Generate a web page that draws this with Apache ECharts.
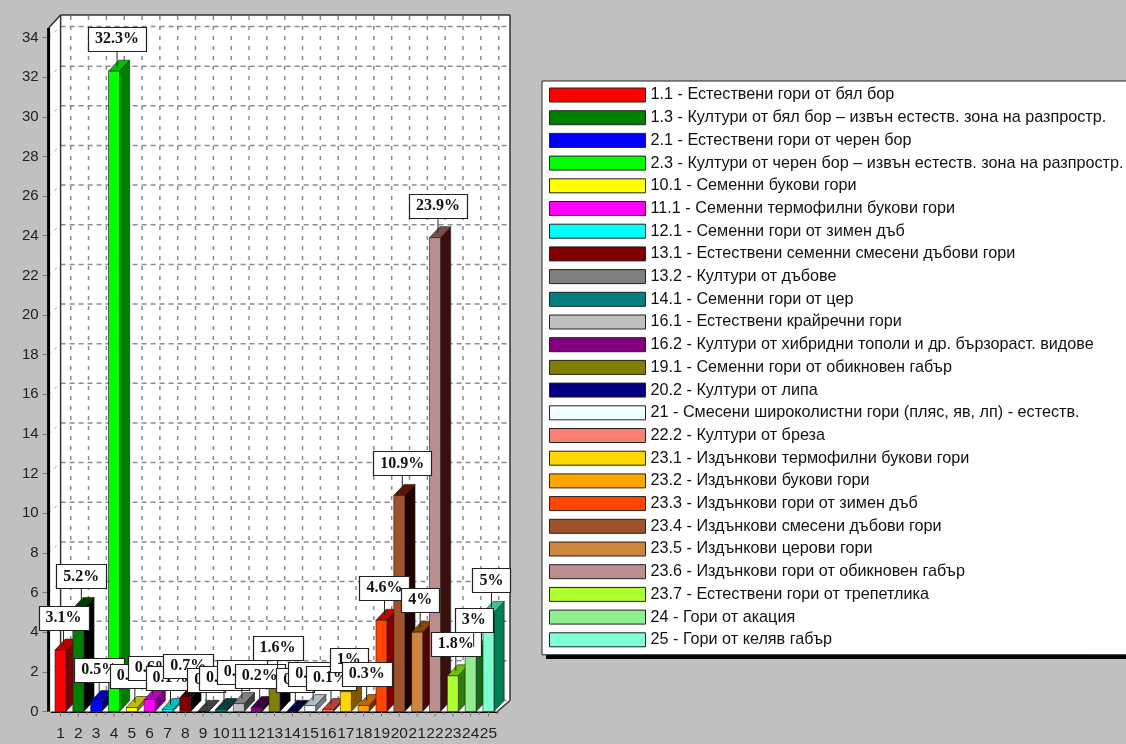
<!DOCTYPE html>
<html>
<head>
<meta charset="utf-8">
<title>chart</title>
<script src="https://cdn.jsdelivr.net/npm/echarts@6/dist/echarts.min.js"></script>
<style>
html, body { margin: 0; padding: 0; background: #c0c0c0; }
#main { width: 1126px; height: 744px; }
</style>
</head>
<body>
<div id="main"></div>
<script>
var categories = ['1','2','3','4','5','6','7','8','9','10','11','12','13','14','15','16','17','18','19','20','21','22','23','24','25'];
var values = [3.1, 5.2, 0.5, 32.3, 0.2, 0.6, 0.1, 0.7, 0, 0.1, 0.4, 0.2, 1.6, 0, 0.3, 0.1, 1, 0.3, 4.6, 10.9, 4, 23.9, 1.8, 3, 5];
var names = [
    '1.1 - Естествени гори от бял бор',
    '1.3 - Култури от бял бор – извън естеств. зона на разпростр.',
    '2.1 - Естествени гори от черен бор',
    '2.3 - Култури от черен бор – извън естеств. зона на разпростр.',
    '10.1 - Семенни букови гори',
    '11.1 - Семенни термофилни букови гори',
    '12.1 - Семенни гори от зимен дъб',
    '13.1 - Естествени семенни смесени дъбови гори',
    '13.2 - Култури от дъбове',
    '14.1 - Семенни гори от цер',
    '16.1 - Естествени крайречни гори',
    '16.2 - Култури от хибридни тополи и др. бързораст. видове',
    '19.1 - Семенни гори от обикновен габър',
    '20.2 - Култури от липа',
    '21 - Смесени широколистни гори (пляс, яв, лп) - естеств.',
    '22.2 - Култури от бреза',
    '23.1 - Издънкови термофилни букови гори',
    '23.2 - Издънкови букови гори',
    '23.3 - Издънкови гори от зимен дъб',
    '23.4 - Издънкови смесени дъбови гори',
    '23.5 - Издънкови церови гори',
    '23.6 - Издънкови гори от обикновен габър',
    '23.7 - Естествени гори от трепетлика',
    '24 - Гори от акация',
    '25 - Гори от келяв габър'
];
var colors = ['#ff0000','#008000','#0000ff','#00ff00','#ffff00','#ff00ff','#00ffff','#800000','#808080','#008080','#c0c0c0','#800080','#808000','#000080','#f0ffff','#fa8072','#ffd700','#ffa500','#ff4500','#a0522d','#cd853f','#bc8f8f','#adff2f','#90ee90','#7fffd4'];

var depthX = 10.2, depthY = 11, barWidth = 11;
var labelFont = 'bold 16px "Liberation Serif"';
var dashH = { stroke: '#8c8c8c', lineWidth: 1.5, lineDash: [5, 4] };
var dashV = { stroke: '#8c8c8c', lineWidth: 1.5, lineDash: [4, 6] };
var dashD = { stroke: '#a0a0a0', lineWidth: 1, lineDash: [3, 5] };

var measure = document.createElement('canvas').getContext('2d');
measure.font = labelFont;

// darken a colour by subtracting from each channel
function shade(hex, amount) {
    var n = parseInt(hex.slice(1), 16);
    var r = Math.max((n >> 16) - amount, 0);
    var g = Math.max(((n >> 8) & 255) - amount, 0);
    var b = Math.max((n & 255) - amount, 0);
    return 'rgb(' + r + ',' + g + ',' + b + ')';
}

function line(x1, y1, x2, y2, style) {
    return { type: 'line', shape: { x1: x1, y1: y1, x2: x2, y2: y2 }, style: style };
}

function poly(points, fill) {
    return { type: 'polygon', shape: { points: points }, style: { fill: fill, stroke: '#1a1a1a', lineWidth: 0.6 } };
}

// white box walls, floor and dashed grid behind the bars
function renderFrame(params, api) {
    var cs = params.coordSys;
    var left = cs.x - 3, bottom = cs.y + cs.height, top = cs.y - 9.5;
    var backLeft = left + 12, backRight = cs.x + cs.width + 12.6;
    var backTop = top - 13, backBottom = bottom - depthY;
    var step = cs.width / categories.length;
    var kids = [];
    kids.push({ type: 'polygon', shape: { points: [[left, top], [backLeft, backTop], [backRight, backTop], [backRight, backBottom], [cs.x + cs.width, bottom], [left, bottom]] }, style: { fill: '#fff' } });
    categories.forEach(function (c, i) {
        var x = api.coord([i, 0])[0];
        kids.push(line(x + depthX, backTop + 1, x + depthX, backBottom, dashV));
        kids.push(line(x, bottom, x + depthX, backBottom, dashD));
        kids.push(line(x, bottom, x, bottom + 5, { stroke: '#777', lineWidth: 1 }));
        kids.push(line(x + step / 2, bottom, x + step / 2, bottom + 3, { stroke: '#777', lineWidth: 1 }));
    });
    for (var v = 0; v <= 34; v += 2) {
        var y = api.coord([0, v])[1];
        kids.push(line(backLeft, y - depthY, backRight, y - depthY, dashH));
        kids.push(line(left, y, backLeft, y - depthY, dashD));
    }
    var edge = { stroke: '#333', lineWidth: 1.5 };
    kids.push(line(left, top, backLeft, backTop, edge));
    kids.push(line(backLeft, backTop, backRight, backTop, edge));
    kids.push(line(backLeft, backTop, backLeft, backBottom, edge));
    kids.push(line(backRight, backTop, backRight, backBottom, edge));
    kids.push(line(backRight, backBottom, cs.x + cs.width, bottom, edge));
    kids.push(line(left, top, left, bottom, { stroke: '#000', lineWidth: 3 }));
    return { type: 'group', children: kids };
}

function renderBar(params, api) {
    var base = api.coord([api.value(0), 0]);
    var tip = api.coord([api.value(0), api.value(1)]);
    var color = api.visual('color');
    var l = base[0] - barWidth / 2, r = base[0] + barWidth / 2;
    return {
        type: 'group',
        children: [
            poly([[r, tip[1]], [r + depthX, tip[1] - depthY], [r + depthX, base[1] - depthY], [r, base[1]]], shade(color, 128)),
            poly([[l, tip[1]], [l + depthX, tip[1] - depthY], [r + depthX, tip[1] - depthY], [r, tip[1]]], shade(color, 64)),
            poly([[l, tip[1]], [r, tip[1]], [r, base[1]], [l, base[1]]], color)
        ]
    };
}

function renderLabel(params, api) {
    var tip = api.coord([api.value(0), api.value(1)]);
    var text = api.value(1) + '%';
    var w = Math.round(measure.measureText(text).width) + 14;
    var cx = tip[0] + 3, bottom = tip[1] - 20;
    return {
        type: 'group',
        children: [
            line(tip[0] + 3, tip[1] - 5, tip[0] + 3, bottom, { stroke: '#222', lineWidth: 1 }),
            { type: 'rect', shape: { x: Math.round(cx - w / 2) + 0.5, y: Math.round(bottom - 24) + 0.5, width: w, height: 24 }, style: { fill: '#fff', stroke: '#222', lineWidth: 1.2 } },
            { type: 'text', x: cx, y: bottom - 12, style: { text: text, font: labelFont, fill: '#111', align: 'center', verticalAlign: 'middle' } }
        ]
    };
}

var series = [{
    type: 'custom',
    name: 'frame',
    silent: true,
    z: 1,
    clip: false,
    renderItem: renderFrame,
    data: [[0, 0]]
}];
values.forEach(function (v, i) {
    series.push({
        type: 'custom',
        name: names[i],
        z: 2,
        clip: false,
        color: colors[i],
        itemStyle: { color: colors[i] },
        renderItem: renderBar,
        encode: { x: 0, y: 1 },
        data: [[i, v]]
    });
});
series.push({
    type: 'custom',
    name: 'labels',
    z: 3,
    clip: false,
    renderItem: renderLabel,
    encode: { x: 0, y: 1 },
    data: values.map(function (v, i) { return [i, v]; })
});

var myChart = echarts.init(document.getElementById('main'));
myChart.setOption({
    animation: false,
    backgroundColor: '#c0c0c0',
    color: colors,
    grid: { left: 51.6, top: 37.5, width: 445.8, height: 674 },
    xAxis: {
        type: 'category',
        data: categories,
        axisLine: { lineStyle: { color: '#000', width: 2 } },
        axisTick: { show: false },
        axisLabel: { interval: 0, margin: 14, color: '#222', fontFamily: 'Liberation Sans', fontSize: 15.5 }
    },
    yAxis: {
        type: 'value',
        min: 0,
        max: 34,
        interval: 2,
        offset: 3,
        splitLine: { show: false },
        axisLine: { show: false },
        axisTick: { show: true, length: 6, lineStyle: { color: '#777' } },
        axisLabel: { margin: 10, color: '#222', fontFamily: 'Liberation Sans', fontSize: 15 }
    },
    graphic: [{
        type: 'rect',
        z: 0,
        shape: { x: 546, y: 85, width: 620, height: 574 },
        style: { fill: '#000' }
    }],
    legend: {
        orient: 'vertical',
        left: 542,
        top: 81,
        z: 5,
        selectedMode: false,
        data: names,
        icon: 'rect',
        itemWidth: 96,
        itemHeight: 14,
        itemGap: 4.7,
        padding: [5, 30, 6, 7],
        backgroundColor: '#fff',
        borderColor: '#222',
        borderWidth: 1,
        itemStyle: { borderColor: '#222', borderWidth: 1 },
        textStyle: { color: '#111', fontFamily: 'Liberation Sans', fontSize: 16.2, lineHeight: 14, padding: [4, 0, 0, 0] }
    },
    series: series
});
</script>
</body>
</html>
